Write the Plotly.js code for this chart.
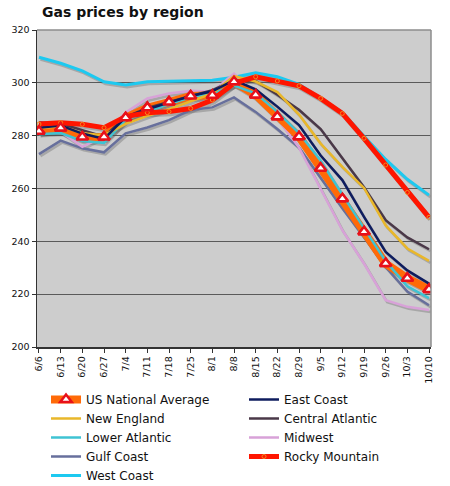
<!DOCTYPE html>
<html>
<head>
<meta charset="utf-8">
<script src="https://cdn.plot.ly/plotly-3.0.1.min.js"></script>
<style>
  html, body { margin: 0; padding: 0; background: #ffffff; }
  #chart { width: 450px; height: 486px; }
</style>
</head>
<body>
<div id="chart"></div>
<script>
const dates = ['6/6','6/13','6/20','6/27','7/4','7/11','7/18','7/25','8/1','8/8','8/15','8/22','8/29','9/5','9/12','9/19','9/26','10/3','10/10'];

const usNationalAverage = [281.7, 282.9, 279.5, 279.5, 286.8, 290.6, 292.7, 295.0, 295.3, 300.4, 295.4, 287.2, 279.6, 267.7, 256.1, 243.6, 231.6, 226.0, 221.8];
const eastCoast        = [283.0, 283.8, 280.8, 278.8, 287.0, 290.0, 292.5, 295.0, 296.8, 301.0, 297.5, 291.0, 284.0, 272.5, 263.2, 249.3, 236.0, 229.0, 224.0];
const newEngland       = [282.8, 283.6, 280.9, 280.2, 284.5, 287.5, 290.0, 293.0, 296.0, 302.5, 300.5, 296.5, 288.0, 277.0, 268.2, 260.2, 246.0, 237.3, 232.6];
const centralAtlantic  = [285.0, 284.6, 282.1, 279.6, 287.0, 290.5, 292.8, 295.0, 297.2, 301.0, 300.7, 295.5, 289.8, 282.5, 271.5, 260.5, 248.0, 241.5, 237.0];
const lowerAtlantic    = [280.5, 281.0, 278.0, 277.2, 286.0, 289.0, 292.0, 294.5, 296.0, 299.0, 296.0, 289.0, 281.0, 270.5, 257.5, 245.0, 232.5, 223.0, 218.5];
const midwest          = [280.9, 281.5, 275.8, 279.8, 288.8, 294.1, 296.0, 297.0, 296.6, 303.5, 295.5, 286.6, 275.5, 260.0, 244.2, 231.6, 217.7, 215.2, 214.0];
const gulfCoast        = [273.0, 278.1, 275.2, 273.7, 280.9, 283.1, 285.9, 289.7, 290.7, 294.5, 289.0, 282.5, 275.5, 264.0, 252.5, 241.5, 230.3, 221.0, 215.8];
const rockyMountain    = [284.4, 284.9, 284.3, 283.0, 287.2, 288.7, 289.1, 290.3, 293.5, 299.8, 302.3, 300.7, 298.9, 294.1, 288.4, 279.0, 268.9, 258.5, 249.1];
const westCoast        = [309.7, 307.4, 304.5, 300.4, 299.2, 300.4, 300.6, 300.7, 301.0, 302.1, 303.8, 302.3, 299.4, 294.3, 288.8, 279.8, 271.0, 263.5, 257.5];

const yTicks = [200, 220, 240, 260, 280, 300, 320];

// drawing order, bottom to top
const series = [
  {name: 'West Coast',        y: westCoast,        color: '#1dc9f0', width: 3,   rank: 9},
  {name: 'Gulf Coast',        y: gulfCoast,        color: '#676f9c', width: 2.5, rank: 7},
  {name: 'Midwest',           y: midwest,          color: '#d8a2d8', width: 2.5, rank: 6},
  {name: 'US National Average', y: usNationalAverage, color: '#ff6a08', width: 8, rank: 1, us: true},
  {name: 'Lower Atlantic',    y: lowerAtlantic,    color: '#3fc3d3', width: 2.5, rank: 5},
  {name: 'Central Atlantic',  y: centralAtlantic,  color: '#4a3848', width: 2.5, rank: 4},
  {name: 'New England',       y: newEngland,       color: '#e9b72a', width: 2.5, rank: 3},
  {name: 'East Coast',        y: eastCoast,        color: '#0e1c5e', width: 2.5, rank: 2},
  {name: 'Rocky Mountain',    y: rockyMountain,    color: '#ff1500', width: 5,   rank: 8, rocky: true}
];

const traces = [];
traces.push({x: dates, y: usNationalAverage, type: 'scatter', mode: 'lines',
  line: {color: 'rgba(0,0,0,0)', width: 0}, showlegend: false, hoverinfo: 'skip',
  xaxis: 'x', yaxis: 'y'});

series.forEach(s => {
  traces.push({x: dates, y: s.y, type: 'scatter', mode: 'lines',
    line: {color: 'rgba(80,80,80,0.30)', width: s.width},
    showlegend: false, hoverinfo: 'skip', xaxis: 'x2', yaxis: 'y2'});
});

series.forEach(s => {
  const t = {x: dates, y: s.y, type: 'scatter', name: s.name, legendrank: s.rank,
    line: {color: s.color, width: s.width}, xaxis: 'x3', yaxis: 'y3', mode: 'lines'};
  if (s.us) {
    t.mode = 'lines+markers';
    t.marker = {symbol: 'triangle-up', size: 10, color: '#ffffff', line: {color: '#e8101a', width: 2.5}};
  }
  if (s.rocky) {
    t.mode = 'lines+markers';
    t.marker = {symbol: 'circle-open', size: 4, color: '#f08a20', line: {color: '#f08a20', width: 1}};
  }
  traces.push(t);
});

traces.push({x: dates, y: usNationalAverage, type: 'scatter', mode: 'markers',
  marker: {symbol: 'triangle-up', size: 10, color: '#ffffff', line: {color: '#e8101a', width: 2.5}},
  showlegend: false, hoverinfo: 'skip', xaxis: 'x3', yaxis: 'y3'});

const xr = [-0.092, 18.092];
const yr = [200, 320];

const layout = {
  width: 450, height: 486,
  margin: {l: 37, r: 19, t: 30, b: 139, pad: 0, autoexpand: false},
  paper_bgcolor: '#ffffff',
  plot_bgcolor: '#cdcdcd',
  font: {family: 'DejaVu Sans, Verdana, sans-serif', color: '#111111', size: 10},
  hovermode: false,
  title: {
    text: '<b>Gas prices by region</b>',
    font: {family: 'DejaVu Sans, Verdana, sans-serif', size: 14, color: '#111111'},
    xref: 'container', x: 42/450, xanchor: 'left',
    yref: 'container', y: 1 - 12/486, yanchor: 'middle'
  },
  xaxis: {
    type: 'category', range: xr, categoryorder: 'array', categoryarray: dates,
    showgrid: false, zeroline: false,
    showline: true, linecolor: '#333333', linewidth: 1.5,
    ticks: 'outside', ticklen: 4, tickcolor: '#333333', tickwidth: 1,
    tickangle: -90, tickfont: {size: 9.5, color: '#111111'}
  },
  yaxis: {
    range: yr, tickvals: yTicks, ticktext: yTicks.map(String),
    showgrid: true, gridcolor: '#5a5a5a', gridwidth: 1.2, zeroline: false,
    showline: true, linecolor: '#333333', linewidth: 1.5,
    ticks: 'outside', ticklen: 4, tickcolor: '#333333', tickwidth: 1,
    tickfont: {size: 9.5, color: '#111111'}
  },
  xaxis2: {type: 'category', overlaying: 'x', anchor: 'y2', visible: false, range: [xr[0] - 0.07, xr[1] - 0.07], categoryorder: 'array', categoryarray: dates},
  yaxis2: {overlaying: 'y', anchor: 'x2', visible: false, range: [yr[0] + 0.76, yr[1] + 0.76]},
  xaxis3: {type: 'category', overlaying: 'x', anchor: 'y3', visible: false, range: xr, categoryorder: 'array', categoryarray: dates},
  yaxis3: {overlaying: 'y', anchor: 'x3', visible: false, range: yr},
  shapes: [
    {type: 'line', xref: 'paper', yref: 'paper', x0: 0, x1: 1, y0: 1, y1: 1, line: {color: '#8c8c8c', width: 1.5}, layer: 'above'},
    {type: 'line', xref: 'paper', yref: 'paper', x0: 1, x1: 1, y0: 0, y1: 1, line: {color: '#8c8c8c', width: 1.5}, layer: 'above'}
  ],
  showlegend: true,
  legend: {
    orientation: 'h', traceorder: 'normal',
    xref: 'container', yref: 'container',
    x: 46/450, xanchor: 'left', y: 1 - 385/486, yanchor: 'top',
    entrywidth: 153, entrywidthmode: 'pixels',
    font: {family: 'DejaVu Sans, Verdana, sans-serif', size: 12, color: '#111111'},
    bgcolor: 'rgba(0,0,0,0)', borderwidth: 0, itemwidth: 30, tracegroupgap: 0
  }
};

Plotly.newPlot('chart', traces, layout, {staticPlot: true, displayModeBar: false});
</script>
</body>
</html>
